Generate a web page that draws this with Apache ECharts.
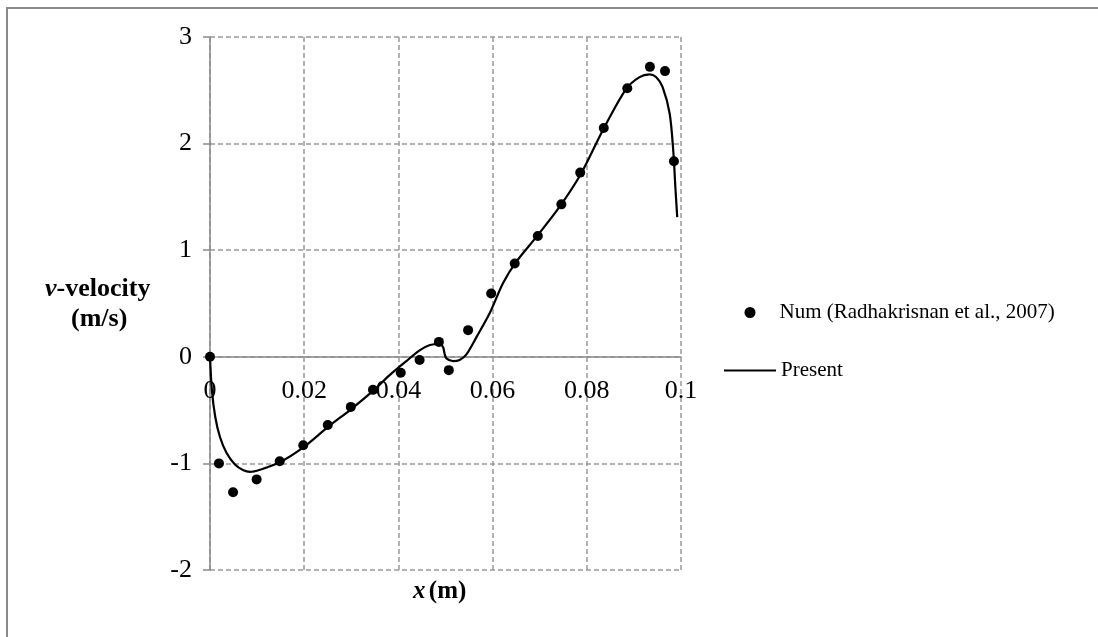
<!DOCTYPE html>
<html>
<head>
<meta charset="utf-8">
<script src="https://cdn.jsdelivr.net/npm/echarts@6/dist/echarts.min.js"></script>
<style>
  html, body { margin: 0; padding: 0; background: #fff; }
  #chart { width: 1098px; height: 637px; }
</style>
</head>
<body>
<div id="chart"></div>
<script>
// tick values
const xTicks = [0, 0.02, 0.04, 0.06, 0.08, 0.1];
const yTicks = [-2, -1, 0, 1, 2, 3];

// Num (Radhakrisnan et al., 2007)
const numX = [0, 0.0019, 0.0049, 0.0099, 0.0148, 0.0198, 0.025, 0.0299, 0.0346, 0.0405,
  0.0445, 0.0486, 0.0507, 0.0548, 0.0597, 0.0647, 0.0696, 0.0746, 0.0786, 0.0836,
  0.0886, 0.0934, 0.0966, 0.0985];
const numY = [0, -1.0, -1.27, -1.15, -0.98, -0.83, -0.64, -0.47, -0.31, -0.15,
  -0.03, 0.14, -0.125, 0.25, 0.594, 0.875, 1.134, 1.43, 1.728, 2.146,
  2.52, 2.72, 2.68, 1.834];

// Present - traced curve
const presentX = [0, 0.0004, 0.0011, 0.0021, 0.0035, 0.0053, 0.0071, 0.0085, 0.0106, 0.0148,
  0.0198, 0.025, 0.030, 0.0346, 0.0382, 0.0417, 0.0445, 0.0467, 0.0488, 0.0495,
  0.0498, 0.0502, 0.0516, 0.053, 0.0544, 0.0566, 0.0594, 0.0622, 0.065, 0.0693,
  0.0742, 0.0788, 0.0834, 0.0884, 0.0912, 0.0933, 0.0947, 0.0961, 0.0976, 0.0984,
  0.0988, 0.0992];
const presentY = [0, -0.31, -0.56, -0.75, -0.9, -1.01, -1.065, -1.08, -1.06, -0.99,
  -0.85, -0.66, -0.49, -0.32, -0.17, -0.04, 0.06, 0.11, 0.12, 0.09,
  0.03, -0.015, -0.04, -0.03, 0.02, 0.187, 0.41, 0.69, 0.89, 1.125,
  1.406, 1.72, 2.125, 2.515, 2.624, 2.65, 2.624, 2.53, 2.28, 1.906,
  1.593, 1.31];

const FONT = '"Liberation Serif", "Times New Roman", serif';
const zip = (xs, ys) => xs.map((x, i) => [x, ys[i]]);

// grid box
const GRID_TOP = 37, GRID_BOTTOM = 67, H = 637;
const plotH = H - GRID_TOP - GRID_BOTTOM;
// move the x axis up to y = 0
const xOffset = -plotH * (0 - yTicks[0]) / (yTicks[yTicks.length - 1] - yTicks[0]);

const chart = echarts.init(document.getElementById('chart'));

const options = {
  backgroundColor: '#fff',
  animation: false,
  textStyle: { fontFamily: FONT, color: '#000' },
  grid: { left: 210, right: 417, top: GRID_TOP, bottom: GRID_BOTTOM, containLabel: false },
  xAxis: {
    type: 'value',
    min: xTicks[0],
    max: xTicks[xTicks.length - 1],
    interval: 0.02,
    offset: xOffset,
    axisLine: { show: true, onZero: false, lineStyle: { color: '#8a8a8a', width: 1.5 } },
    axisTick: { show: false },
    axisLabel: { fontFamily: FONT, fontSize: 26, color: '#000', margin: 21 },
    splitLine: { show: true, lineStyle: { color: '#9a9a9a', type: [5, 3], width: 1.5 } }
  },
  yAxis: {
    type: 'value',
    min: yTicks[0],
    max: yTicks[yTicks.length - 1],
    interval: 1,
    axisLine: { show: true, onZero: false, lineStyle: { color: '#8a8a8a', width: 1.5 } },
    axisTick: { show: true, length: 7, lineStyle: { color: '#8a8a8a', width: 1.5 } },
    axisLabel: { fontFamily: FONT, fontSize: 26, color: '#000', margin: 18 },
    splitLine: { show: true, lineStyle: { color: '#9a9a9a', type: [5, 3], width: 1.5 } }
  },
  legend: [
    {
      data: ['Num (Radhakrisnan et al., 2007)'],
      left: 744.5, top: 302, padding: 0,
      itemWidth: 11, itemHeight: 11,
      textStyle: { fontFamily: FONT, fontSize: 21, color: '#000', padding: [0, 0, 0, 19] }
    },
    {
      data: ['Present'],
      left: 723, top: 360, padding: 0,
      itemWidth: 52, itemHeight: 11,
      itemStyle: { opacity: 0 },
      textStyle: { fontFamily: FONT, fontSize: 21, color: '#000' }
    }
  ],
  graphic: [
    {
      type: 'polyline', silent: true,
      shape: { points: [[7, 700], [7, 8], [1200, 8]] },
      style: { stroke: '#8a8a8a', lineWidth: 2, fill: null }
    },
    {
      type: 'text', left: 45, top: 276,
      style: {
        text: '{i|v}{b|-velocity}',
        rich: {
          i: { fontFamily: FONT, fontSize: 26, fontWeight: 'bold', fontStyle: 'italic', fill: '#000' },
          b: { fontFamily: FONT, fontSize: 26, fontWeight: 'bold', fill: '#000' }
        }
      }
    },
    {
      type: 'text', left: 71, top: 306,
      style: { text: '(m/s)', font: 'bold 26px ' + FONT, fill: '#000' }
    },
    {
      type: 'text', left: 413, top: 579,
      style: {
        text: '{i|x} {b|(m)}',
        rich: {
          i: { fontFamily: FONT, fontSize: 25, fontWeight: 'bold', fontStyle: 'italic', fill: '#000' },
          b: { fontFamily: FONT, fontSize: 25, fontWeight: 'bold', fill: '#000' }
        }
      }
    }
  ],
  series: [
    {
      name: 'Num (Radhakrisnan et al., 2007)',
      type: 'scatter',
      symbol: 'circle',
      symbolSize: 10,
      itemStyle: { color: '#000', opacity: 1 },
      data: zip(numX, numY),
      z: 3
    },
    {
      name: 'Present',
      type: 'line',
      showSymbol: false,
      symbol: 'none',
      smooth: 0.3,
      lineStyle: { color: '#000', width: 2.2 },
      itemStyle: { color: '#000' },
      data: zip(presentX, presentY),
      z: 2
    }
  ]
};

chart.setOption(options);
</script>
</body>
</html>
